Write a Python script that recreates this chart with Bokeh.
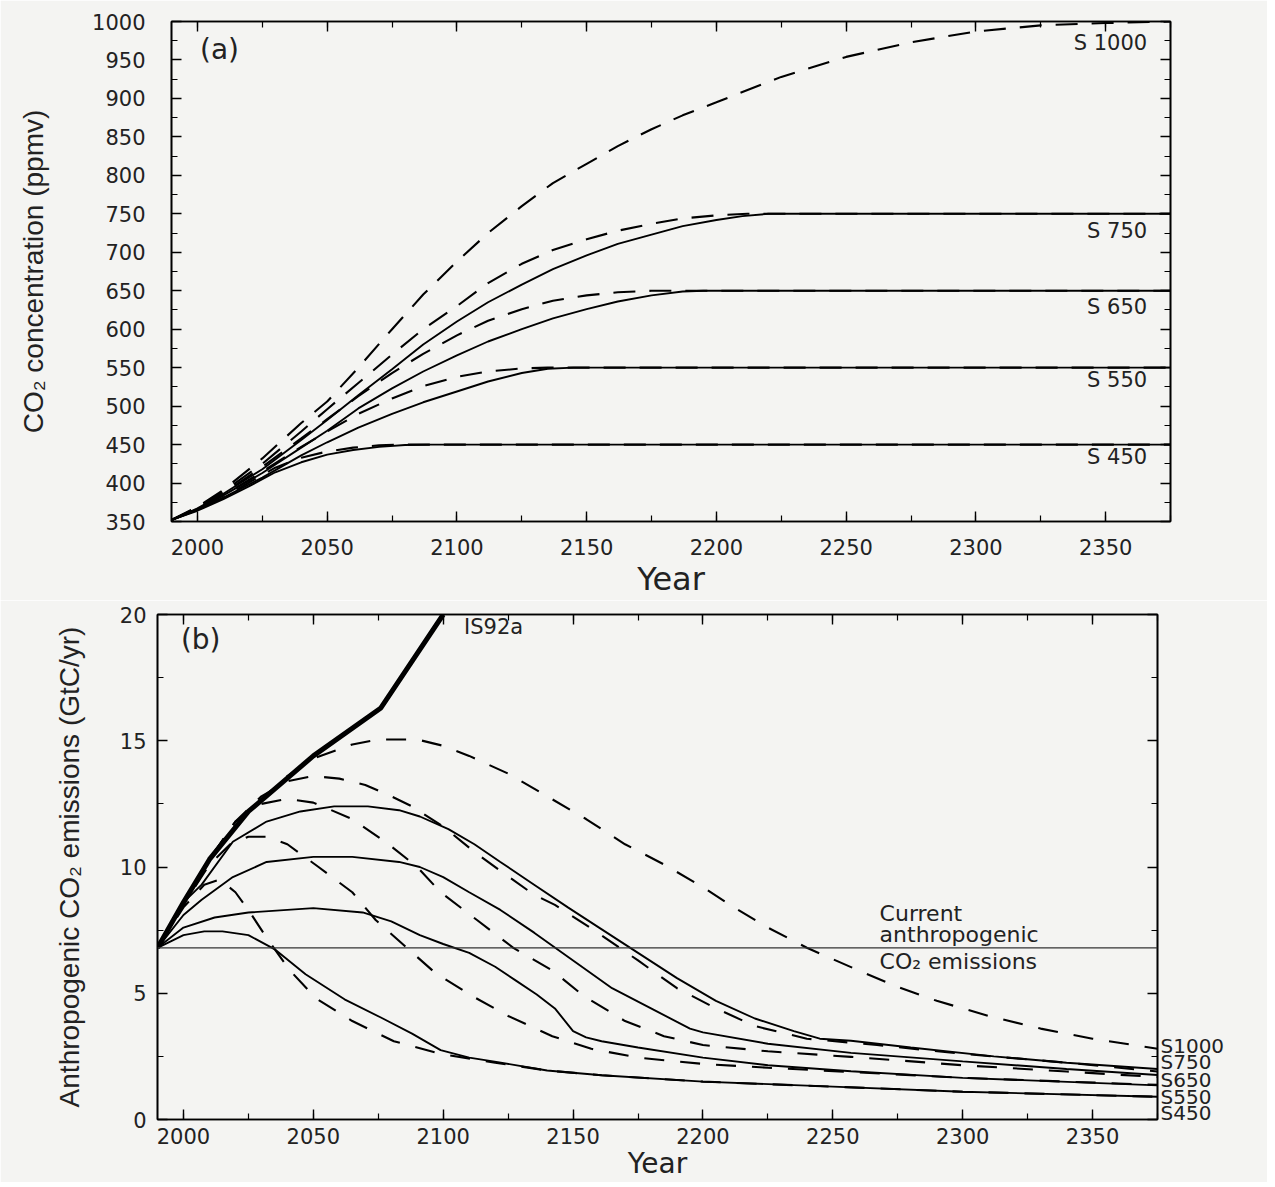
from bokeh.plotting import figure
from bokeh.models import (LinearAxis, SingleIntervalTicker, FixedTicker, Range1d, Label, Span,
                          CustomJSTickFormatter)
from bokeh.embed import file_html
from bokeh.resources import INLINE

# ---------------- Panel (a): CO2 concentration (ppmv) ----------------
yr_a_s450 = [1990, 2000, 2010, 2020, 2030, 2040, 2050, 2060, 2070, 2080, 2090, 2375]
a_s450 = [352, 364, 379, 396, 414, 427, 437, 443, 447, 449.5, 450, 450]
yr_a_w450 = [1990, 2000, 2010, 2020, 2030, 2040, 2050, 2060, 2070, 2080, 2375]
a_w450 = [352, 365, 381, 401, 420, 433, 441, 446, 449, 450, 450]

yr_a_s550 = [1990, 2000, 2010, 2025, 2040, 2050, 2062, 2075, 2087, 2100, 2112, 2125, 2135, 2145, 2375]
a_s550 = [352, 365, 381, 407, 436, 453, 472, 490, 505, 519, 532, 543, 548.5, 550, 550]
yr_a_w550 = [1990, 2000, 2010, 2025, 2040, 2050, 2062, 2075, 2087, 2100, 2112, 2125, 2135, 2375]
a_w550 = [352, 366, 384, 415, 447, 467, 490, 510, 526, 538, 545, 549, 550, 550]

yr_a_s650 = [1990, 2000, 2010, 2025, 2040, 2050, 2062, 2075, 2087, 2100, 2112, 2125, 2137, 2150, 2162, 2175, 2187, 2195, 2375]
a_s650 = [352, 366, 384, 413, 446, 468, 497, 523, 545, 566, 584, 600, 614, 626, 636, 644, 649, 650, 650]
yr_a_w650 = [1990, 2000, 2010, 2025, 2040, 2050, 2062, 2075, 2087, 2100, 2112, 2125, 2137, 2150, 2162, 2175, 2375]
a_w650 = [352, 367, 387, 421, 458, 483, 513, 543, 568, 592, 611, 626, 637, 644, 648, 650, 650]

yr_a_s750 = [1990, 2000, 2010, 2025, 2040, 2050, 2062, 2075, 2087, 2100, 2112, 2125, 2137, 2150, 2162, 2175, 2187, 2200, 2210, 2220, 2375]
a_s750 = [352, 367, 386, 418, 456, 482, 514, 548, 580, 610, 635, 658, 678, 696, 711, 723, 734, 742, 747, 750, 750]
yr_a_w750 = [1990, 2000, 2010, 2025, 2040, 2050, 2062, 2075, 2087, 2100, 2112, 2125, 2137, 2150, 2162, 2175, 2187, 2200, 2212, 2375]
a_w750 = [352, 368, 389, 425, 467, 496, 530, 567, 600, 630, 660, 685, 703, 717, 728, 737, 744, 748, 750, 750]

yr_a_s1000 = [1990, 2000, 2010, 2025, 2040, 2050, 2062, 2075, 2087, 2100, 2112, 2125, 2137, 2150, 2162, 2175, 2187, 2200, 2225, 2250, 2275, 2300, 2325, 2350, 2375]
a_s1000 = [352, 369, 391, 432, 478, 506, 550, 600, 645, 688, 725, 760, 790, 815, 838, 860, 878, 895, 928, 954, 973, 987, 995, 998, 1000]

a_labels = ["S 1000", "S 750", "S 650", "S 550", "S 450"]
a_label_y = [972, 728, 629, 534, 434]

# ---------------- Panel (b): emissions (GtC/yr) ----------------
current_emissions = 6.8

yr_b_is92a = [1990, 2000, 2010, 2025, 2050, 2076, 2100]
b_is92a = [6.8, 8.6, 10.3, 12.2, 14.4, 16.3, 20.0]

yr_b_s450 = [1990, 2000, 2008, 2015, 2025, 2035, 2047, 2062, 2076, 2088, 2099, 2110, 2121, 2140, 2161, 2200, 2250, 2300, 2375]
b_s450 = [6.8, 7.3, 7.45, 7.45, 7.3, 6.75, 5.75, 4.76, 4.04, 3.4, 2.75, 2.45, 2.27, 1.94, 1.75, 1.5, 1.3, 1.1, 0.9]
yr_b_w450 = [1990, 2000, 2008, 2014, 2020, 2025, 2032, 2041, 2051, 2065, 2081, 2099, 2120, 2140, 2161, 2200, 2250, 2300, 2375]
b_w450 = [6.8, 8.4, 9.3, 9.5, 9.0, 8.3, 7.2, 5.9, 4.8, 3.9, 3.1, 2.6, 2.25, 1.94, 1.75, 1.5, 1.3, 1.1, 0.9]

yr_b_s550 = [1990, 2000, 2012, 2025, 2050, 2069, 2080, 2091, 2100, 2110, 2120, 2128, 2136, 2143, 2150, 2155, 2161, 2175, 2200, 2225, 2257, 2300, 2375]
b_s550 = [6.8, 7.6, 8.0, 8.2, 8.37, 8.2, 7.85, 7.3, 6.95, 6.6, 6.05, 5.5, 4.95, 4.4, 3.5, 3.25, 3.1, 2.85, 2.45, 2.15, 1.91, 1.65, 1.35]
yr_b_w550 = [1990, 2000, 2010, 2018, 2025, 2032, 2040, 2052, 2065, 2074, 2086, 2097, 2111, 2125, 2142, 2157, 2175, 2200, 2225, 2257, 2300, 2375]
b_w550 = [6.8, 8.5, 10.1, 10.9, 11.2, 11.2, 10.9, 10.0, 9.0, 7.9, 6.8, 5.8, 4.9, 4.1, 3.3, 2.8, 2.45, 2.2, 2.05, 1.88, 1.65, 1.37]

yr_b_s650 = [1990, 2000, 2007, 2019, 2032, 2050, 2065, 2083, 2091, 2100, 2110, 2122, 2135, 2150, 2165, 2180, 2195, 2200, 2225, 2257, 2300, 2340, 2375]
b_s650 = [6.8, 8.1, 8.7, 9.6, 10.2, 10.4, 10.4, 10.2, 10.0, 9.6, 9.0, 8.3, 7.4, 6.3, 5.2, 4.4, 3.6, 3.45, 3.0, 2.64, 2.3, 2.0, 1.76]
yr_b_w650 = [1990, 2000, 2010, 2020, 2030, 2040, 2050, 2065, 2079, 2090, 2099, 2113, 2127, 2142, 2154, 2170, 2185, 2200, 2225, 2257, 2300, 2340, 2375]
b_w650 = [6.8, 8.5, 10.3, 11.8, 12.5, 12.7, 12.55, 11.9, 10.9, 10.0, 9.0, 7.9, 6.8, 5.9, 4.9, 3.9, 3.3, 2.95, 2.7, 2.48, 2.15, 1.9, 1.68]

yr_b_s750 = [1990, 2000, 2007, 2019, 2032, 2045, 2058, 2071, 2083, 2091, 2102, 2112, 2122, 2135, 2148, 2160, 2175, 2190, 2205, 2220, 2235, 2245, 2257, 2280, 2312, 2340, 2375]
b_s750 = [6.8, 8.6, 9.3, 11.0, 11.8, 12.2, 12.4, 12.4, 12.25, 12.0, 11.5, 10.9, 10.2, 9.3, 8.4, 7.6, 6.6, 5.6, 4.7, 4.0, 3.5, 3.2, 3.12, 2.85, 2.5, 2.25, 2.0]
yr_b_w750 = [1990, 2000, 2010, 2020, 2030, 2040, 2050, 2060, 2070, 2080, 2088, 2100, 2112, 2124, 2135, 2143, 2158, 2175, 2190, 2205, 2220, 2240, 2267, 2300, 2340, 2375]
b_w750 = [6.8, 8.6, 10.3, 11.8, 12.8, 13.4, 13.6, 13.5, 13.25, 12.8, 12.4, 11.6, 10.6, 9.7, 8.9, 8.5, 7.5, 6.3, 5.2, 4.4, 3.7, 3.2, 2.95, 2.6, 2.25, 1.9]

yr_b_s1000 = [1990, 2000, 2010, 2025, 2040, 2050, 2065, 2075, 2090, 2100, 2110, 2125, 2140, 2155, 2170, 2185, 2200, 2212, 2225, 2240, 2260, 2275, 2290, 2310, 2330, 2350, 2375]
b_s1000 = [6.8, 8.6, 10.3, 12.2, 13.6, 14.3, 14.85, 15.05, 15.05, 14.8, 14.4, 13.7, 12.8, 11.9, 10.9, 10.1, 9.2, 8.4, 7.6, 6.8, 5.9, 5.25, 4.7, 4.1, 3.6, 3.2, 2.8]

b_labels = ["S1000", "S750", "S650", "S550", "S450"]
b_label_y = [2.9, 2.26, 1.58, 0.91, 0.24]

FONT = "DejaVu Sans"
LABEL_FONT = "Liberation Sans"
BG = "#f4f4f2"
TXT = "#222222"


def tune_axis(ax):
    ax.axis_line_color = "black"
    ax.axis_line_width = 1.6
    ax.major_tick_in = 10
    ax.major_tick_out = 0
    ax.minor_tick_in = 6
    ax.minor_tick_out = 0
    ax.major_tick_line_color = "black"
    ax.minor_tick_line_color = "black"
    ax.major_tick_line_width = 1.4
    ax.minor_tick_line_width = 1.2


def build(p, y_interval, xlabel, ylabel, xl_size, yl_size, x_standoff, y_standoff, xl_standoff, yl_standoff):
    xa = p.below[0]
    ya = p.left[0]
    xa.ticker = SingleIntervalTicker(interval=50, num_minor_ticks=2)
    ya.ticker = SingleIntervalTicker(interval=y_interval, num_minor_ticks=2)
    for ax in (xa, ya):
        tune_axis(ax)
        ax.major_label_text_font = FONT
        ax.major_label_text_font_size = "21px"
        ax.major_label_text_color = TXT
        ax.axis_label_text_font_style = "normal"
        ax.axis_label_text_color = TXT
    xa.major_label_standoff = x_standoff
    ya.major_label_standoff = y_standoff
    xa.axis_label = xlabel
    xa.axis_label_text_font = FONT
    xa.axis_label_text_font_size = xl_size
    xa.axis_label_standoff = xl_standoff
    ya.axis_label = ylabel
    ya.axis_label_text_font = LABEL_FONT
    ya.axis_label_text_font_size = yl_size
    ya.axis_label_standoff = yl_standoff
    top = LinearAxis(ticker=SingleIntervalTicker(interval=50, num_minor_ticks=2),
                     formatter=CustomJSTickFormatter(code="return ''"), major_label_standoff=0)
    right = LinearAxis(ticker=SingleIntervalTicker(interval=y_interval, num_minor_ticks=2),
                       formatter=CustomJSTickFormatter(code="return ''"), major_label_standoff=0)
    tune_axis(top)
    tune_axis(right)
    p.add_layout(top, "above")
    p.add_layout(right, "right")
    p.xgrid.visible = False
    p.ygrid.visible = False
    p.outline_line_color = "black"
    p.outline_line_width = 1.6
    p.background_fill_color = BG
    p.border_fill_color = BG


SOLID_W = 1.9
DASH_W = 2.1

# ---------- figure (a) ----------
pa = figure(frame_width=999, frame_height=500,
            min_border_left=171, min_border_right=97, min_border_top=21, min_border_bottom=69,
            x_range=Range1d(1990, 2375), y_range=Range1d(350, 1000),
            output_backend="svg", toolbar_location=None)
build(pa, 50, "Year", "CO\u2082 concentration (ppmv)", "32px", "28px", 17, 26, 2, 40)

DASH_A = "22 14"
pa.line(yr_a_s450, a_s450, line_color="black", line_width=SOLID_W)
pa.line(yr_a_w450, a_w450, line_color="black", line_width=DASH_W, line_dash=DASH_A)
pa.line(yr_a_s550, a_s550, line_color="black", line_width=SOLID_W)
pa.line(yr_a_w550, a_w550, line_color="black", line_width=DASH_W, line_dash=DASH_A)
pa.line(yr_a_s650, a_s650, line_color="black", line_width=SOLID_W)
pa.line(yr_a_w650, a_w650, line_color="black", line_width=DASH_W, line_dash=DASH_A)
pa.line(yr_a_s750, a_s750, line_color="black", line_width=SOLID_W)
pa.line(yr_a_w750, a_w750, line_color="black", line_width=DASH_W, line_dash=DASH_A)
pa.line(yr_a_s1000, a_s1000, line_color="black", line_width=DASH_W, line_dash=DASH_A)

for txt, yv in zip(a_labels, a_label_y):
    pa.add_layout(Label(x=2366, y=yv, text=txt, text_align="right", text_baseline="middle",
                        text_font=FONT, text_font_size="21px", text_color=TXT))
pa.add_layout(Label(x=2001, y=964, text="(a)", text_align="left", text_baseline="middle",
                    text_font=FONT, text_font_size="28px", text_color=TXT))

# ---------- figure (b) ----------
pb = figure(frame_width=1000, frame_height=505,
            min_border_left=157, min_border_right=110, min_border_top=14, min_border_bottom=58,
            x_range=Range1d(1990, 2375), y_range=Range1d(0, 20),
            output_backend="svg", toolbar_location=None)
build(pb, 5, "Year", "Anthropogenic CO\u2082 emissions (GtC/yr)", "28px", "28px", 8, 11, 0, 32)

# scenario names at the right edge of panel (b), drawn as an extra right axis
name_axis = LinearAxis(ticker=FixedTicker(ticks=b_label_y, minor_ticks=[]),
                       major_label_overrides={v: t for v, t in zip(b_label_y, b_labels)},
                       axis_line_color=None, major_tick_line_color=None, minor_tick_line_color=None,
                       major_tick_in=0, major_tick_out=0, major_label_standoff=3,
                       major_label_text_font=FONT, major_label_text_font_size="20px",
                       major_label_text_color=TXT)
pb.add_layout(name_axis, "right")

DASH_B = "20 16"
pb.add_layout(Span(location=current_emissions, dimension="width", line_color="#333333", line_width=1.2))
pb.line(yr_b_s450, b_s450, line_color="black", line_width=SOLID_W)
pb.line(yr_b_w450, b_w450, line_color="black", line_width=DASH_W, line_dash=DASH_B)
pb.line(yr_b_s550, b_s550, line_color="black", line_width=SOLID_W)
pb.line(yr_b_w550, b_w550, line_color="black", line_width=DASH_W, line_dash=DASH_B)
pb.line(yr_b_s650, b_s650, line_color="black", line_width=SOLID_W)
pb.line(yr_b_w650, b_w650, line_color="black", line_width=DASH_W, line_dash=DASH_B)
pb.line(yr_b_s750, b_s750, line_color="black", line_width=SOLID_W)
pb.line(yr_b_w750, b_w750, line_color="black", line_width=DASH_W, line_dash=DASH_B)
pb.line(yr_b_s1000, b_s1000, line_color="black", line_width=DASH_W, line_dash=DASH_B)
pb.line(yr_b_is92a, b_is92a, line_color="black", line_width=5)

pb.add_layout(Label(x=1999, y=19.0, text="(b)", text_align="left", text_baseline="middle",
                    text_font=FONT, text_font_size="28px", text_color=TXT))
pb.add_layout(Label(x=2108, y=19.5, text="IS92a", text_align="left", text_baseline="middle",
                    text_font=FONT, text_font_size="21px", text_color=TXT))
for txt, yv in zip(["Current", "anthropogenic", "CO\u2082 emissions"], [8.16, 7.33, 6.26]):
    pb.add_layout(Label(x=2268, y=yv, text=txt, text_align="left", text_baseline="middle",
                        text_font=FONT, text_font_size="22px", text_color=TXT))

open("out.html", "w").write(file_html([pa, pb], INLINE))
